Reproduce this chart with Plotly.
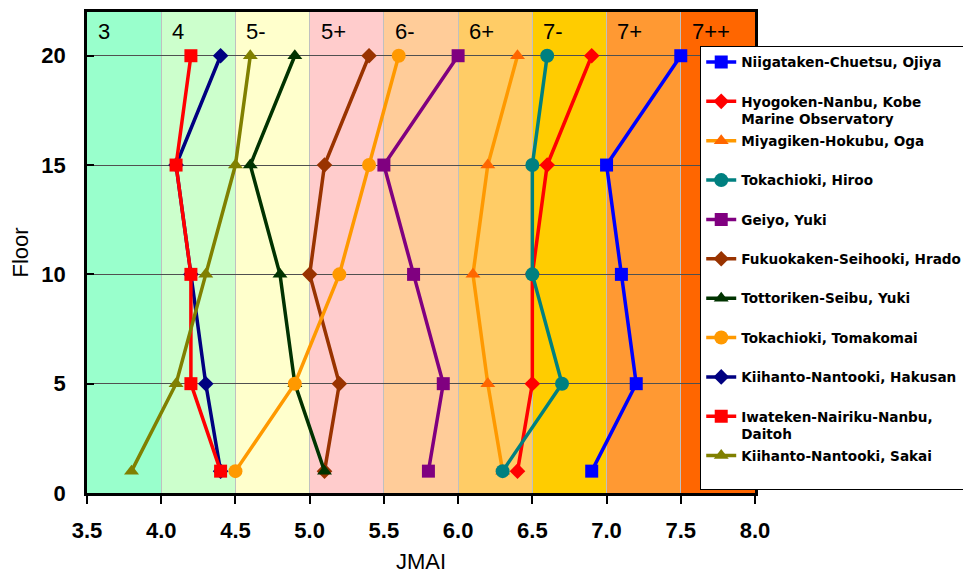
import plotly.graph_objects as go

floors = [1, 5, 10, 15, 20]

series_names = [
    "Niigataken-Chuetsu, Ojiya",
    "Hyogoken-Nanbu, Kobe<br>Marine Observatory",
    "Miyagiken-Hokubu, Oga",
    "Tokachioki, Hiroo",
    "Geiyo, Yuki",
    "Fukuokaken-Seihooki, Hrado",
    "Tottoriken-Seibu, Yuki",
    "Tokachioki, Tomakomai",
    "Kiihanto-Nantooki, Hakusan",
    "Iwateken-Nairiku-Nanbu,<br>Daitoh",
    "Kiihanto-Nantooki, Sakai",
]

ojiya = [6.9, 7.2, 7.1, 7.0, 7.5]
kobe = [6.4, 6.5, 6.5, 6.6, 6.9]
oga = [6.3, 6.2, 6.1, 6.2, 6.4]
hiroo = [6.3, 6.7, 6.5, 6.5, 6.6]
geiyo_yuki = [5.8, 5.9, 5.7, 5.5, 6.0]
hrado = [5.1, 5.2, 5.0, 5.1, 5.4]
tottori_yuki = [5.1, 4.9, 4.8, 4.6, 4.9]
tomakomai = [4.5, 4.9, 5.2, 5.4, 5.6]
hakusan = [4.4, 4.3, 4.2, 4.1, 4.4]
daitoh = [4.4, 4.2, 4.2, 4.1, 4.2]
sakai = [3.8, 4.1, 4.3, 4.5, 4.6]

series_values = [ojiya, kobe, oga, hiroo, geiyo_yuki, hrado,
                 tottori_yuki, tomakomai, hakusan, daitoh, sakai]

line_colors = ["#0000FF", "#FF0000", "#FF9900", "#008080", "#800080", "#993300",
               "#003300", "#FF9900", "#000080", "#FF0000", "#808000"]
marker_colors = ["#0000FF", "#FF0000", "#FF6600", "#008080", "#800080", "#993300",
                 "#003300", "#FF9900", "#000080", "#FF0000", "#808000"]
marker_symbols = ["square", "diamond", "triangle-up", "circle", "square", "diamond",
                  "triangle-up", "circle", "diamond", "square", "triangle-up"]
marker_sizes = [13, 12, 13, 14, 13, 12, 13, 14, 12, 13, 13]

band_edges = [3.5, 4.0, 4.5, 5.0, 5.5, 6.0, 6.5, 7.0, 7.5, 8.0]
band_labels = ["3", "4", "5-", "5+", "6-", "6+", "7-", "7+", "7++"]
band_colors = ["#99FFCC", "#CCFFCC", "#FFFFCC", "#FFCCCC", "#FFCC99",
               "#FFCC66", "#FFCC00", "#FF9933", "#FF6600"]

x_ticks = [3.5, 4.0, 4.5, 5.0, 5.5, 6.0, 6.5, 7.0, 7.5, 8.0]
y_ticks = [0, 5, 10, 15, 20]

FONT = "Liberation Sans, Arial, sans-serif"

fig = go.Figure()

for i, (name, vals) in enumerate(zip(series_names, series_values)):
    disp = name if "<br>" in name else name + "<br> "
    fig.add_trace(go.Scatter(
        x=vals, y=floors, mode="lines+markers", name=disp,
        legendgroup=str(i),
        line=dict(color=line_colors[i], width=3.5),
        marker=dict(color=marker_colors[i], symbol=marker_symbols[i],
                    size=marker_sizes[i], line=dict(width=0)),
    ))

shapes = []
annotations = []
for i, lab in enumerate(band_labels):
    shapes.append(dict(type="rect", xref="x", yref="y",
                       x0=band_edges[i], x1=band_edges[i + 1], y0=0, y1=22,
                       fillcolor=band_colors[i], line=dict(width=0), layer="below"))
    annotations.append(dict(x=band_edges[i] + 0.06, y=21.1, xref="x", yref="y",
                            text=lab, showarrow=False, xanchor="left", yanchor="middle",
                            font=dict(size=22, color="black", family=FONT)))

fig.update_layout(
    width=971, height=574,
    margin=dict(l=79, r=224, t=1, b=89),
    paper_bgcolor="white", plot_bgcolor="white",
    font=dict(family=FONT, color="black"),
    shapes=shapes, annotations=annotations,
    showlegend=True,
    legend=dict(x=0.918, y=0.93, xanchor="left", yanchor="top",
                bgcolor="white", bordercolor="black", borderwidth=1,
                font=dict(size=13.6, color="black", family="DejaVu Sans, sans-serif",
                          weight="bold"),
                tracegroupgap=1, valign="top", itemwidth=30, maxheight=560),
    xaxis=dict(range=[3.5, 8.0], tickvals=x_ticks,
               ticktext=[f"{v:.1f}" for v in x_ticks],
               showgrid=True, gridcolor="#C0C0C0", gridwidth=1,
               showline=True, linecolor="black", linewidth=2.5, mirror=True,
               ticks="outside", ticklen=8, tickwidth=1.5, tickcolor="black",
               tickfont=dict(size=22, weight="bold"), zeroline=False,
               ticklabelstandoff=8,
               title=dict(text="JMAI", font=dict(size=22), standoff=12)),
    yaxis=dict(range=[0, 22], tickvals=y_ticks,
               showgrid=True, gridcolor="#505050", gridwidth=1,
               showline=True, linecolor="black", linewidth=2.5, mirror=True,
               ticks="inside", ticklen=7, tickwidth=2, tickcolor="black",
               tickfont=dict(size=22, weight="bold"), zeroline=False,
               ticklabelstandoff=14,
               title=dict(text="Floor", font=dict(size=22), standoff=16)),
)

fig.write_html("out.html")
